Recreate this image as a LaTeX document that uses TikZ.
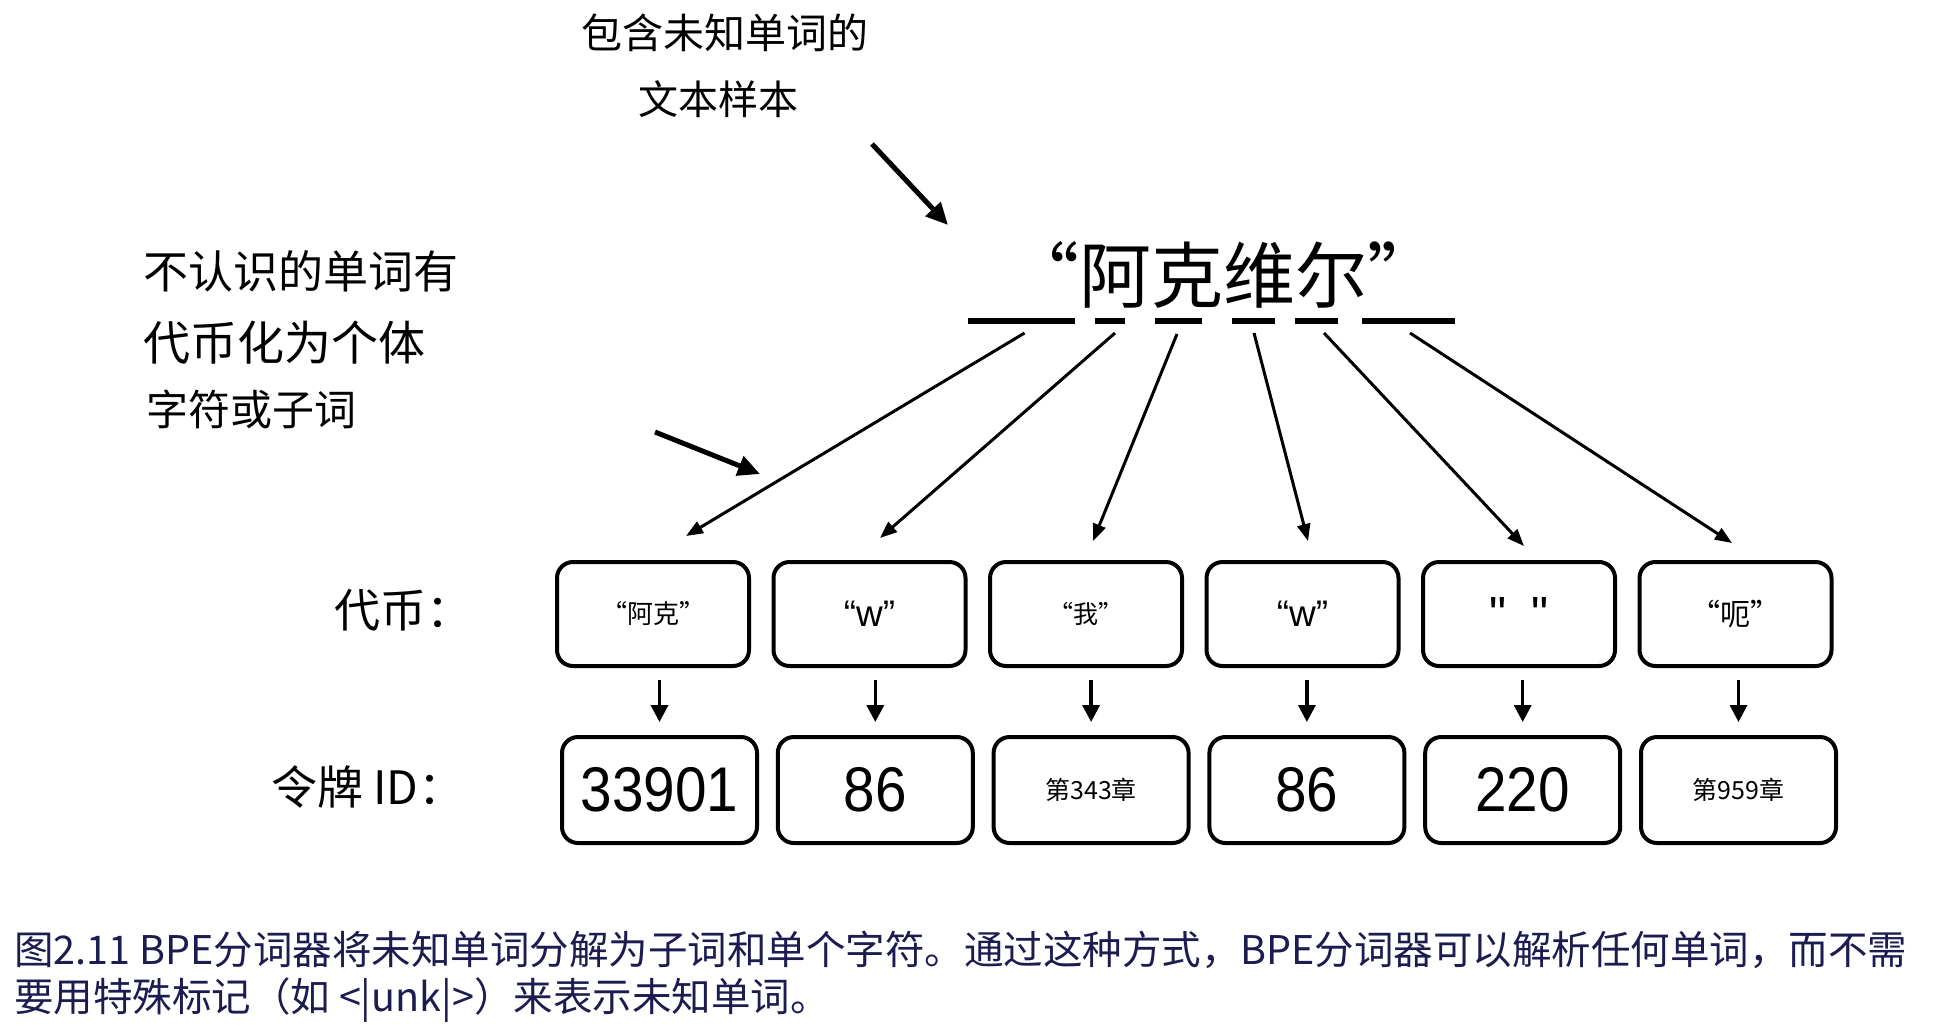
\documentclass[tikz,border=0pt]{standalone}
\usepackage{fontspec}
\setmainfont{Noto Sans CJK SC}
\newfontfamily\cjk{Noto Sans CJK SC}
\newfontfamily\arial{Liberation Sans}
\usetikzlibrary{arrows.meta}
\definecolor{capcol}{RGB}{28,28,80}
\newcommand{\fs}[1]{\fontsize{#1}{#1}\selectfont}
\newcommand{\dig}[1]{\scalebox{0.96}[1.07]{#1}}
\begin{document}
\begin{tikzpicture}[x=1pt,y=-1pt,
  tok/.style={draw, line width=4pt, rounded corners=16pt, minimum width=192pt, minimum height=104pt, inner sep=0pt},
  idbox/.style={tok, minimum width=195pt, minimum height=106pt},
  lbl/.style={inner sep=0pt, font=\cjk\fs{46}},
  note/.style={inner sep=0pt, anchor=west},
  varr/.style={-{Triangle[length=17pt,width=17pt]}, line width=3.5pt, shorten <=12pt, shorten >=13pt},
  larr/.style={-{Triangle[length=17pt,width=13pt]}, line width=3pt},
  parr/.style={-{Triangle[length=22pt,width=20pt]}, line width=5pt},
  seg/.style={line width=5.5pt}
]
\useasboundingbox[fill=white] (0,0) rectangle (1933,1034);

% annotations
\node[inner sep=0pt, font=\cjk\fs{41}] (n1a) at (725,33) {包含未知单词的};
\node[inner sep=0pt, font=\cjk\fs{40}] (n1b) at (718,99) {文本样本};
\node[note, font=\cjk\fs{45}] (n2a) at (143,271) {不认识的单词有};
\node[note, font=\cjk\fs{47}] (n2b) at (143,343) {代币化为个体};
\node[note, font=\cjk\fs{42}] (n2c) at (146,409) {字符或子词};

\coordinate (p1s) at (872,144);
\coordinate (p1e) at (948,225);
\coordinate (p2s) at (655,432);
\coordinate (p2e) at (760,474);
\draw[parr] (p1s) -- (p1e);
\draw[parr] (p2s) -- (p2e);

% the word
\node[inner sep=0pt, font=\cjk\fs{72}] (word) at (1223,275) {“阿克维尔”};
\draw[seg] (968,321) -- (1075,321);
\draw[seg] (1095,321) -- (1125,321);
\draw[seg] (1155,321) -- (1202,321);
\draw[seg] (1232,321) -- (1275,321);
\draw[seg] (1295,321) -- (1338,321);
\draw[seg] (1362,321) -- (1455,321);

% row labels
\node[lbl, anchor=west] (lt) at (334,610) {代币：};
\node[lbl, anchor=west] (li) at (271,787) {令牌 ID：};

% token boxes
\node[tok, font=\cjk\fs{26}] (t1) at (653,614) {“阿克”};
\node[tok, font=\arial\fs{37}] (t2) at (869.5,614) {“w”};
\node[tok, font=\cjk\fs{25}] (t3) at (1086,614) {“我”};
\node[tok, font=\arial\fs{37}] (t4) at (1302.5,614) {“w”};
\node[tok, font=\arial\fs{48}] (t5) at (1519,614) {"\hspace{24pt}"};
\node[tok, font=\cjk\fs{30}] (t6) at (1735.5,614) {“呃”};

% id boxes
\node[idbox, font=\arial\fs{59}] (i1) at (659.5,790) {\dig{33901}};
\node[idbox, font=\arial\fs{59}] (i2) at (875.3,790) {\dig{86}};
\node[idbox, font=\cjk\fs{25}] (i3) at (1091.1,790) {第343章};
\node[idbox, font=\arial\fs{59}] (i4) at (1306.9,790) {\dig{86}};
\node[idbox, font=\arial\fs{59}] (i5) at (1522.7,790) {\dig{220}};
\node[idbox, font=\cjk\fs{25}] (i6) at (1738.5,790) {第959章};

% arrows token -> id
\foreach \k in {1,...,6}{
  \draw[varr] (t\k.south -| i\k.north) -- (i\k.north);
}

% arrows from word pieces to tokens
\coordinate (s1) at (1024.5,333);
\coordinate (s2) at (1115,333);
\coordinate (s3) at (1177,334);
\coordinate (s4) at (1254,333);
\coordinate (s5) at (1324,333);
\coordinate (s6) at (1410,333);
\draw[larr] (s1) -- ([xshift=33pt,yshift=24pt]t1.north);
\draw[larr] (s2) -- ([xshift=10.5pt,yshift=22pt]t2.north);
\draw[larr] (s3) -- ([xshift=7pt,yshift=19pt]t3.north);
\draw[larr] (s4) -- ([xshift=5.5pt,yshift=19pt]t4.north);
\draw[larr] (s5) -- ([xshift=5pt,yshift=14pt]t5.north);
\draw[larr] (s6) -- ([xshift=-3.5pt,yshift=17pt]t6.north);

% caption
\node[note, font=\cjk\fs{39.5}, text=capcol] (cap1) at (14,950) {图2.11 BPE分词器将未知单词分解为子词和单个字符。通过这种方式，BPE分词器可以解析任何单词，而不需};
\node[note, font=\cjk\fs{39.5}, text=capcol] (cap2) at (14,1000) {要用特殊标记（如 <|unk|>）来表示未知单词。};
\end{tikzpicture}
\end{document}
